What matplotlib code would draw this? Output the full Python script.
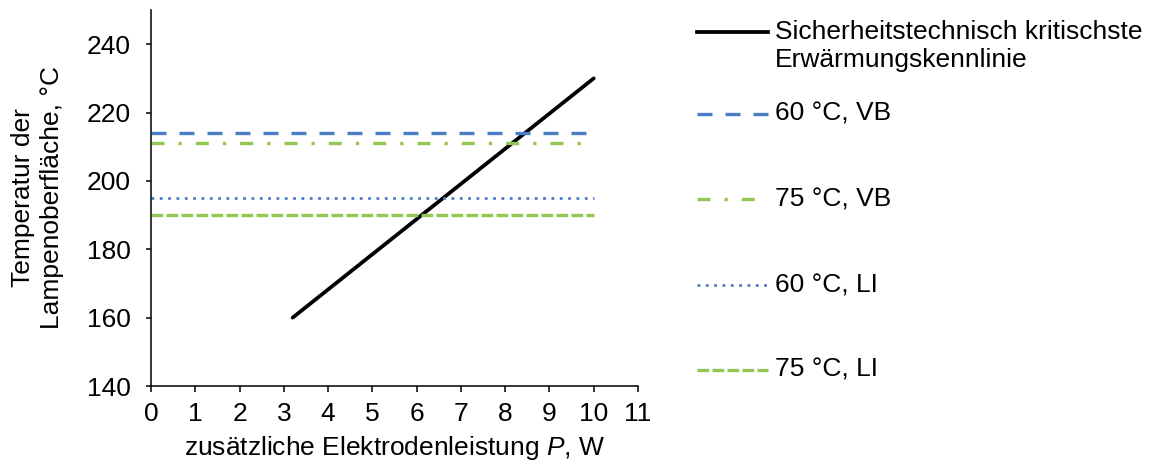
import matplotlib
matplotlib.use("Agg")
import matplotlib.pyplot as plt
from matplotlib.lines import Line2D

plt.rcParams.update({
    "font.family": ["Liberation Sans", "DejaVu Sans"],
    "font.size": 19,
    "mathtext.fontset": "custom",
    "mathtext.it": "Liberation Sans:italic",
    "mathtext.rm": "Liberation Sans",
    "axes.linewidth": 1.1,
})

# data
kennlinie_p = [3.2, 10.0]
kennlinie_t = [160, 230]
grenz_p = [0.0, 10.0]
grenz_labels = ["60 °C, VB", "75 °C, VB", "60 °C, LI", "75 °C, LI"]
grenz_t = [214, 211, 195, 190]

BLUE = "#4a7ec4"
GREEN = "#92c84f"
styles = [
    dict(color=BLUE, lw=2.4, dashes=(4.5, 3.9)),
    dict(color=GREEN, lw=2.4, dashes=(3.9, 4.2, 1.0, 4.2)),
    dict(color=BLUE, lw=2.0, dashes=(1.0, 2.0)),
    dict(color=GREEN, lw=2.4, dashes=(3.5, 1.0)),
]

fig = plt.figure(figsize=(11.5, 4.7), dpi=100)
ax = fig.add_axes([151 / 1150, 1 - 386 / 470, (638 - 151) / 1150, (386 - 10) / 470])

ax.plot(kennlinie_p, kennlinie_t, color="black", lw=2.7, solid_capstyle="round")
for t, st in zip(grenz_t, styles):
    ax.plot(grenz_p, [t, t], dash_capstyle="butt", **st)

ax.set_xlim(0, 11)
ax.set_ylim(140, 250)
ax.set_xticks(range(0, 12))
ax.set_yticks(range(140, 241, 20))
for s in ("top", "right"):
    ax.spines[s].set_visible(False)
ax.tick_params(axis="x", direction="out", length=4.5, width=1.1, pad=7)
ax.tick_params(axis="y", direction="out", length=3.8, width=1.1, pad=11)

ax.set_xlabel("zusätzliche Elektrodenleistung $P$, W", labelpad=6)
ax.set_ylabel("Temperatur der\nLampenoberfläche, °C", labelpad=16, linespacing=1.25)

# legend drawn at the right, Excel-like spacing
def fy(px):
    return 1 - px / 470

x0, x1, xt = 697 / 1150, 768 / 1150, 775 / 1150
fig.add_artist(Line2D([x0, x1], [fy(32), fy(32)], color="black", lw=2.7,
                      transform=fig.transFigure))
fig.text(xt, fy(32), "Sicherheitstechnisch kritischste", va="center")
fig.text(xt, fy(60), "Erwärmungskennlinie", va="center")
for lab, st, ypx in zip(grenz_labels, styles, [114, 199, 285, 370]):
    fig.add_artist(Line2D([x0, x1], [fy(ypx), fy(ypx)], transform=fig.transFigure,
                          dash_capstyle="butt", **st))
    fig.text(xt, fy(ypx), lab, va="center")

fig.savefig("out.png", dpi=100, facecolor="white")
